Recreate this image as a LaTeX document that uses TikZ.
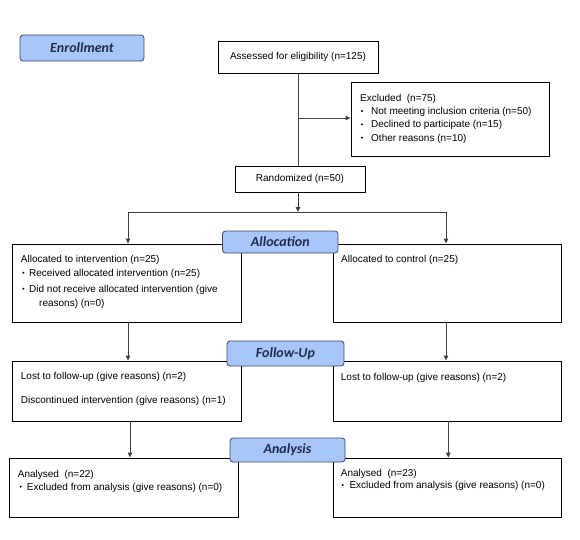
\documentclass[tikz,border=0pt]{standalone}
\usepackage{fontspec}
\setmainfont{Liberation Sans}
\newfontfamily\labfont{Carlito}
\usetikzlibrary{arrows.meta}
\definecolor{labfill}{HTML}{A8C6FA}
\definecolor{labdraw}{HTML}{3C4A5E}
\definecolor{labtext}{HTML}{1F2D4D}
\definecolor{conn}{HTML}{404040}
\tikzset{
  box/.style={draw=black, line width=0.9pt, inner sep=0pt, fill=white},
  stagelab/.style={draw=labdraw, line width=0.8pt, fill=labfill, rounded corners=3pt, inner sep=0pt,
     text=labtext, font=\labfont\bfseries\itshape\fontsize{14}{16}\selectfont},
  txt/.style={anchor=base west, inner sep=0pt, font=\fontsize{10}{12}\selectfont},
  ctxt/.style={inner sep=0pt, font=\fontsize{10}{12}\selectfont},
  bul/.style={circle, fill=black, inner sep=0pt, minimum size=2.1pt},
  conline/.style={draw=conn, line width=0.9pt},
  arr/.style={conline, -{Triangle[length=5pt,width=4.5pt]}},
}
\begin{document}
\begin{tikzpicture}[x=1pt,y=-1pt]
\useasboundingbox (0,0) rectangle (580,539);
% boxes
\node[stagelab, minimum width=124pt, minimum height=26pt] (enroll) at (82,48) {Enrollment};
\node[box, minimum width=160pt, minimum height=32pt] (assess) at (298,57) {};
\node[ctxt] (assesst) at (298,57) {Assessed for eligibility (n=125)};
\node[box, minimum width=198pt, minimum height=74pt] (excl) at (450,119) {};
\node[box, minimum width=130pt, minimum height=26pt] (rand) at (300,179) {};
\node[ctxt] (randt) at (300,179) {Randomized (n=50)};
\node[box, minimum width=229pt, minimum height=78pt] (allocL) at (126.5,283) {};
\node[box, minimum width=228pt, minimum height=78pt] (allocR) at (447,283) {};
\node[box, minimum width=229pt, minimum height=60pt] (followL) at (126.5,391) {};
\node[box, minimum width=228pt, minimum height=60pt] (followR) at (447,391) {};
\node[box, minimum width=229.5pt, minimum height=59pt] (anaL) at (123.75,487.5) {};
\node[box, minimum width=228pt, minimum height=59pt] (anaR) at (447,487.5) {};
% stage labels
\node[stagelab, minimum width=115.5pt, minimum height=22pt] (allocLab) at (280.25,242) {Allocation};
\node[stagelab, minimum width=117pt, minimum height=25pt] (followLab) at (285.5,353.5) {Follow-Up};
\node[stagelab, minimum width=115pt, minimum height=24pt] (anaLab) at (287.5,450) {Analysis};
% texts: excluded
\node[txt] (ex0) at (360,101.8) {Excluded~ (n=75)};
\node[bul] (exb1) at (362,111) {};
\node[bul] (exb2) at (362,124.3) {};
\node[bul] (exb3) at (362,137.7) {};
\node[txt] (ex1) at (371,114.5) {Not meeting inclusion criteria (n=50)};
\node[txt] (ex2) at (371,127.8) {Declined to participate (n=15)};
\node[txt] (ex3) at (371,141.2) {Other reasons (n=10)};
% allocation
\node[txt] (al0) at (20.7,262.5) {Allocated to intervention (n=25)};
\node[bul] (alb1) at (23.3,272.7) {};
\node[bul] (alb2) at (23.3,288.7) {};
\node[txt] (al1) at (29,276.2) {Received allocated intervention (n=25)};
\node[txt] (al2) at (29,292.2) {Did not receive allocated intervention (give};
\node[txt] (al3) at (39,306.8) {reasons) (n=0)};
\node[txt] (ar0) at (341,262.5) {Allocated to control (n=25)};
% follow-up
\node[txt] (fl0) at (20.7,379.5) {Lost to follow-up (give reasons) (n=2)};
\node[txt] (fl1) at (20.7,403.5) {Discontinued intervention (give reasons) (n=1)};
\node[txt] (fr0) at (340.7,380.8) {Lost to follow-up (give reasons) (n=2)};
% analysis
\node[txt] (nl0) at (17.7,477.5) {Analysed~ (n=22)};
\node[bul] (nlb) at (20.7,486.7) {};
\node[txt] (nl1) at (26.7,490.2) {Excluded from analysis (give reasons) (n=0)};
\node[txt] (nr0) at (340.7,476.5) {Analysed~ (n=23)};
\node[bul] (nrb) at (342.7,485) {};
\node[txt] (nr1) at (349.3,488.5) {Excluded from analysis (give reasons) (n=0)};
% connectors
\coordinate (exbranch) at (298,118);
\coordinate (split) at (298,212);
\coordinate (splitL) at (128,212);
\coordinate (splitR) at (446,212);
\draw[conline] (assess.south) -- (assess.south |- rand.north);
\draw[arr] (exbranch) -- (excl.west |- exbranch);
\draw[arr] (rand.south -| split) -- (split);
\draw[conline] (splitL) -- (splitR);
\draw[arr] (splitL) -- (splitL |- allocL.north);
\draw[arr] (splitR) -- (splitR |- allocR.north);
\draw[arr] (allocL.south -| splitL) -- (splitL |- followL.north);
\draw[arr] (allocR.south -| splitR) -- (splitR |- followR.north);
\coordinate (fLx) at (130,0);
\coordinate (fRx) at (448.3,0);
\draw[arr] (followL.south -| fLx) -- (fLx |- anaL.north);
\draw[arr] (followR.south -| fRx) -- (fRx |- anaR.north);
\end{tikzpicture}
\end{document}
